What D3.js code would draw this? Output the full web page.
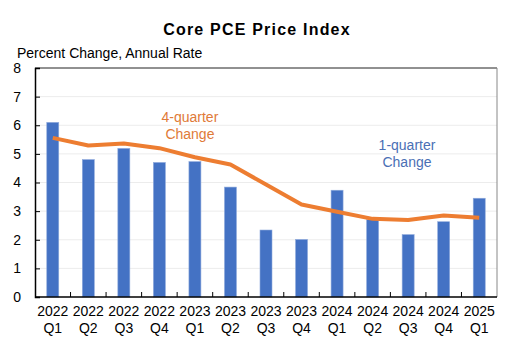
<!DOCTYPE html>
<html>
<head>
<meta charset="utf-8">
<script src="https://cdn.jsdelivr.net/npm/d3@7"></script>
<style>
  body { margin: 0; background: #fff; }
  text { font-family: "Liberation Sans", Arial, sans-serif; }
</style>
</head>
<body>
<div id="chart"></div>
<script>
const years = ["2022","2022","2022","2022","2023","2023","2023","2023","2024","2024","2024","2024","2025"];
const quarters = ["Q1","Q2","Q3","Q4","Q1","Q2","Q3","Q4","Q1","Q2","Q3","Q4","Q1"];
const oneQuarter = [6.10, 4.80, 5.19, 4.70, 4.73, 3.84, 2.34, 2.01, 3.73, 2.70, 2.18, 2.63, 3.45];
const fourQuarter = [5.56, 5.29, 5.36, 5.20, 4.88, 4.63, 3.93, 3.23, 2.98, 2.73, 2.69, 2.85, 2.77];
const yTicks = [0, 1, 2, 3, 4, 5, 6, 7, 8];

const width = 514, height = 352,
      margin = ({ top: 68, right: 17, bottom: 55, left: 35 });

const cats = years.map((y, i) => y + " " + quarters[i]);

let svg = d3.select("#chart")
    .append("svg")
    .attr("width", width)
    .attr("height", height);

let x = d3.scaleBand()
    .domain(cats)
    .range([margin.left, width - margin.right]);

let y = d3.scaleLinear()
    .domain([0, 8])
    .range([height - margin.bottom, margin.top]);

// gridlines
svg.append("g")
    .selectAll("line")
    .data(yTicks.filter(t => t > 0 && t < 8))
    .join("line")
    .attr("x1", margin.left).attr("x2", width - margin.right)
    .attr("y1", d => y(d)).attr("y2", d => y(d))
    .attr("stroke", "#ececec");

// frame: top and right
svg.append("line")
    .attr("x1", margin.left).attr("x2", width - margin.right)
    .attr("y1", y(8)).attr("y2", y(8))
    .attr("stroke", "#222");
svg.append("line")
    .attr("x1", width - margin.right).attr("x2", width - margin.right)
    .attr("y1", y(8)).attr("y2", y(0))
    .attr("stroke", "#888");

// bars
svg.append("g")
    .selectAll("rect")
    .data(oneQuarter)
    .join("rect")
    .attr("x", (d, i) => x(cats[i]) + x.bandwidth() / 2 - 6)
    .attr("width", 12)
    .attr("y", d => y(d))
    .attr("height", d => y(0) - y(d))
    .attr("fill", "#4472c4")
    .attr("stroke", "#8faadc")
    .attr("stroke-width", 0.6);

// 4-quarter line
let line = d3.line()
    .x((d, i) => x(cats[i]) + x.bandwidth() / 2)
    .y(d => y(d));

svg.append("path")
    .datum(fourQuarter)
    .attr("d", line)
    .attr("fill", "none")
    .attr("stroke", "#ed7d31")
    .attr("stroke-width", 4)
    .attr("stroke-linejoin", "round");

// y axis
let yAxis = svg.append("g")
    .attr("transform", `translate(${margin.left},0)`)
    .call(d3.axisLeft(y).tickValues(yTicks).tickSize(-5).tickPadding(14));
yAxis.select(".domain").attr("stroke", "#000").attr("stroke-width", 1.5);
yAxis.selectAll(".tick line").attr("stroke", "#000");
yAxis.selectAll(".tick text")
    .attr("font-size", 14)
    .attr("fill", "#000")
    .attr("font-family", "'Liberation Sans', Arial, sans-serif");
yAxis.select(".tick:last-of-type line").remove();

// x axis with ticks between categories
let xg = svg.append("g")
    .attr("transform", `translate(0,${y(0)})`);
xg.append("line")
    .attr("x1", margin.left).attr("x2", width - margin.right)
    .attr("stroke", "#000").attr("stroke-width", 1.5);
xg.selectAll(".sep")
    .data(cats.slice(1))
    .join("line")
    .attr("class", "sep")
    .attr("x1", d => x(d)).attr("x2", d => x(d))
    .attr("y1", 0).attr("y2", -5)
    .attr("stroke", "#000");

let lbl = xg.selectAll(".lbl")
    .data(cats)
    .join("text")
    .attr("class", "lbl")
    .attr("text-anchor", "middle")
    .attr("font-size", 14)
    .attr("fill", "#000");
lbl.append("tspan")
    .attr("x", d => x(d) + x.bandwidth() / 2)
    .attr("y", 19)
    .text((d, i) => years[i]);
lbl.append("tspan")
    .attr("x", d => x(d) + x.bandwidth() / 2)
    .attr("y", 36)
    .text((d, i) => quarters[i]);

// titles
svg.append("text")
    .attr("x", 257).attr("y", 35)
    .attr("text-anchor", "middle")
    .attr("font-size", 16)
    .attr("font-weight", "bold")
    .attr("letter-spacing", 1.2)
    .text("Core PCE Price Index");

svg.append("text")
    .attr("x", 17).attr("y", 58)
    .attr("font-size", 14)
    .text("Percent Change, Annual Rate");

// annotations
const orangeLabel = ["4-quarter", "Change"];
const blueLabel = ["1-quarter", "Change"];

svg.append("text")
    .attr("text-anchor", "middle")
    .attr("font-size", 14)
    .attr("fill", "#e07a38")
    .selectAll("tspan")
    .data(orangeLabel)
    .join("tspan")
    .attr("x", x(cats[4]) + x.bandwidth() / 2 - 5)
    .attr("y", (d, i) => 122 + i * 17)
    .text(d => d);

svg.append("text")
    .attr("text-anchor", "middle")
    .attr("font-size", 14)
    .attr("fill", "#4a6fb5")
    .selectAll("tspan")
    .data(blueLabel)
    .join("tspan")
    .attr("x", 407)
    .attr("y", (d, i) => 150 + i * 17)
    .text(d => d);
</script>
</body>
</html>
